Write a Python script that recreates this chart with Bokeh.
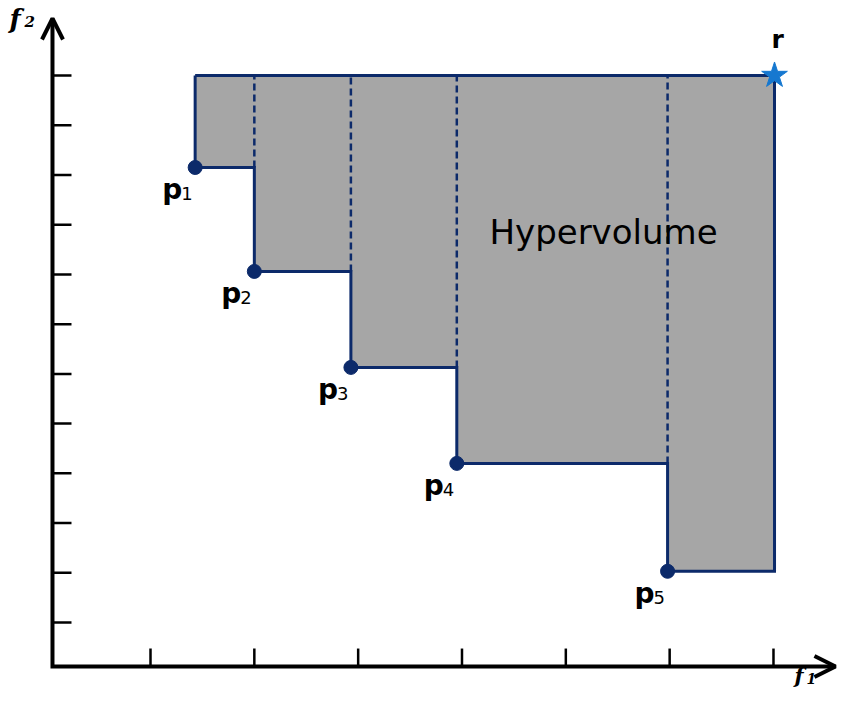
import math
from bokeh.plotting import figure
from bokeh.models import Range1d, Arrow, OpenHead
from bokeh.core.properties import value
from bokeh.embed import file_html
from bokeh.resources import INLINE

# ---- data ----
point_x = [1.43, 2.00, 2.93, 3.95, 5.98]
point_y = [10.15, 8.06, 6.13, 4.20, 2.03]
point_subs = ["1", "2", "3", "4", "5"]
ref_x = 7.01
ref_y = 12.0
x_ticks = [1, 2, 3, 4, 5, 6, 7]
y_ticks = [1, 2, 3, 4, 5, 6, 7, 8, 9, 10, 11, 12]
region_label = "Hypervolume"
axis_origin = (0.056, 0.115)
axis_tips = (7.597, 13.146)

NAVY = "#0c2a6a"
GREY = "#a6a6a6"
STAR = "#1678d0"

W, H = 838, 692
x_start, x_end = -0.4447, 7.6262
y_start, y_end = -0.4071, 13.5081

p = figure(width=W, height=H, x_range=Range1d(x_start, x_end), y_range=Range1d(y_start, y_end),
           output_backend="svg", toolbar_location=None,
           x_axis_location=None, y_axis_location=None, min_border=0)
p.outline_line_color = None
p.grid.visible = False
p.background_fill_color = "white"

ox, oy = axis_origin
tx, ty = axis_tips

# staircase polygon built from the points
poly_x = [point_x[0], ref_x, ref_x]
poly_y = [ref_y, ref_y, point_y[-1]]
n = len(point_x)
for i in range(n - 1, -1, -1):
    poly_x.append(point_x[i]); poly_y.append(point_y[i])
    if i > 0:
        poly_x.append(point_x[i]); poly_y.append(point_y[i - 1])

p.patch(poly_x, poly_y, fill_color=GREY, line_color=None)

# dashed dividers
p.segment(x0=point_x[1:], y0=point_y[:-1], x1=point_x[1:], y1=[ref_y] * (n - 1),
          line_color=NAVY, line_width=2.5, line_dash="7 4")
# outline on top of the dashes
p.line(poly_x + [poly_x[0]], poly_y + [poly_y[0]], line_color=NAVY, line_width=3, line_join="miter")

p.scatter(point_x, point_y, size=14, color=NAVY)
p.scatter([ref_x], [ref_y], marker="star", size=27, color=STAR)

# axes: lines, ticks, arrow heads
p.line([ox, ox, tx], [ty, oy, oy], line_color="black", line_width=4, line_join="miter")
p.ray(x=x_ticks, y=[oy] * len(x_ticks), length=18, length_units="screen", angle=math.pi / 2,
      line_color="black", line_width=2.5)
p.ray(x=[ox] * len(y_ticks), y=y_ticks, length=19, length_units="screen", angle=0,
      line_color="black", line_width=2.5)
p.add_layout(Arrow(end=OpenHead(size=21, line_width=4, line_color="black"),
                   x_start=ox, y_start=ty - 0.5, x_end=ox, y_end=ty, line_alpha=0))
p.add_layout(Arrow(end=OpenHead(size=21, line_width=4, line_color="black"),
                   x_start=tx - 0.2, y_start=oy, x_end=tx, y_end=oy, line_alpha=0))

# point labels
p.text(x=point_x, y=point_y, text=["p"] * n, x_offset=-33, y_offset=22,
       text_font=value("DejaVu Sans"), text_font_size="28px", text_font_style="bold",
       text_align="left", text_baseline="alphabetic", text_color="black")
p.text(x=point_x, y=point_y, text=point_subs, x_offset=-14, y_offset=26,
       text_font=value("DejaVu Sans"), text_font_size="18px",
       text_align="left", text_baseline="alphabetic", text_color="black")

# other texts
p.text(x=[5.363], y=[8.86], text=[region_label], text_align="center",
       text_baseline="alphabetic", text_font=value("DejaVu Sans"), text_font_size="34px",
       text_color="black")
p.text(x=[ref_x], y=[ref_y], text=["r"], x_offset=-3, y_offset=-36, text_align="left",
       text_baseline="alphabetic", text_font=value("DejaVu Sans"), text_font_size="25px",
       text_font_style="bold", text_color="black")
p.text(x=[ox], y=[ty], text=["f"], x_offset=-43, y_offset=0, text_align="left",
       text_baseline="alphabetic", text_font=value("DejaVu Serif"), text_font_size="26px",
       text_font_style="bold italic", text_color="black")
p.text(x=[ox], y=[ty], text=["2"], x_offset=-28, y_offset=3, text_align="left",
       text_baseline="alphabetic", text_font=value("DejaVu Serif"), text_font_size="15px",
       text_font_style="bold italic", text_color="black")
p.text(x=[tx], y=[oy], text=["f"], x_offset=-41, y_offset=9, text_align="left",
       text_baseline="alphabetic", text_font=value("DejaVu Serif"), text_font_size="21px",
       text_font_style="bold italic", text_color="black")
p.text(x=[tx], y=[oy], text=["1"], x_offset=-29, y_offset=12, text_align="left",
       text_baseline="alphabetic", text_font=value("DejaVu Serif"), text_font_size="14px",
       text_font_style="bold italic", text_color="black")

open("out.html", "w").write(file_html(p, INLINE))
